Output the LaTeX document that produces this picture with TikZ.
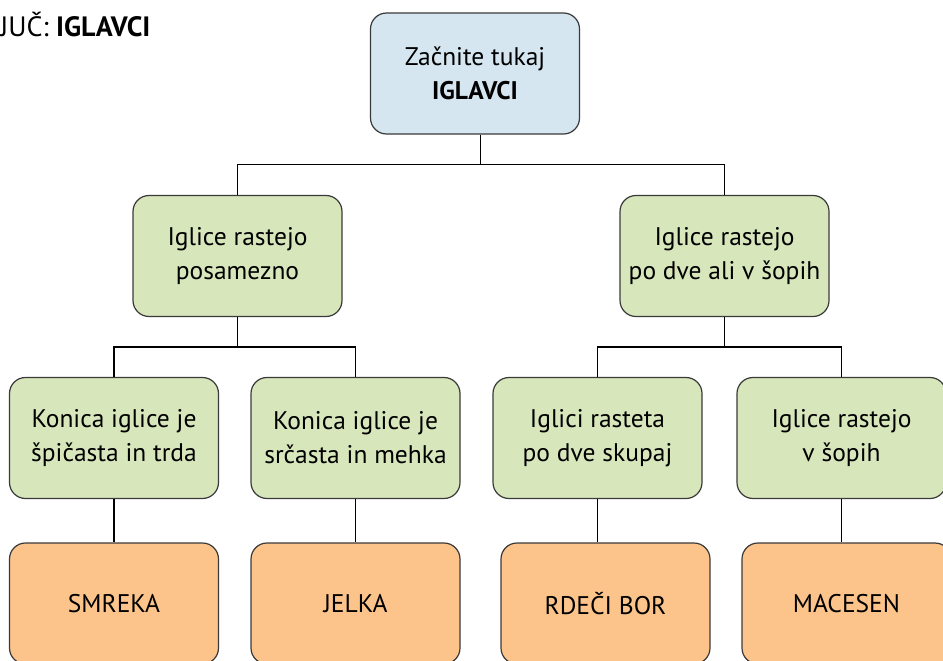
\documentclass[tikz,border=0pt]{standalone}
\usepackage{fontspec}
\setmainfont{PT Sans}
\usepackage{tikz}
\usetikzlibrary{positioning}
\definecolor{startblue}{HTML}{D5E6F1}
\definecolor{choicegreen}{HTML}{D8E6BB}
\definecolor{treeorange}{HTML}{FCC48B}
\definecolor{edgegray}{HTML}{3A3A3A}

\begin{document}
\begin{tikzpicture}[x=1pt, y=-1pt,
    every node/.style={font=\fontsize{25.5}{34}\selectfont},
    start/.style={draw=edgegray, rounded corners=16pt, align=center, minimum width=209pt,
                  minimum height=121pt, fill=startblue, line width=1.2pt},
    choice/.style={draw=edgegray, rounded corners=16pt, align=center, minimum width=209pt,
                   minimum height=121pt, fill=choicegreen, line width=1.2pt},
    species/.style={draw=edgegray, rounded corners=16pt, align=center, minimum width=209pt,
                    minimum height=121pt, fill=treeorange, line width=1.2pt},
    link/.style={draw=black, line width=1.2pt}]
    \useasboundingbox (0,0) rectangle (943,661);

    \node[anchor=west, inner sep=0pt, font=\fontsize{28}{34}\selectfont] (title) at (0,25)
      {JUČ: \textbf{IGLAVCI}};

    \node[start] (root) at (475,73.5) {Začnite tukaj\\\textbf{IGLAVCI}};

    \node[choice] (posam) at (237.5,256) {Iglice rastejo\\posamezno};
    \node[choice] (sopi)  at (724.5,256) {Iglice rastejo\\po dve ali v šopih};

    \node[choice] (trda)   at (114,438) {Konica iglice je\\špičasta in trda};
    \node[choice] (mehka)  at (355.5,438) {Konica iglice je\\srčasta in mehka};
    \node[choice] (skupaj) at (597.5,438) {Iglici rasteta\\po dve skupaj};
    \node[choice] (vsopih) at (841.5,438) {Iglice rastejo\\v šopih};

    \node[species] (smreka) at (114,603.5) {SMREKA};
    \node[species] (jelka)  at (355.5,603.5) {JELKA};
    \node[species] (bor)    at (605.5,603.5) {RDEČI BOR};
    \node[species] (macesen) at (846.5,603.5) {MACESEN};

    \coordinate (split) at (480.5,164.5);
    \coordinate (splitl) at (237.5,347);
    \coordinate (splitr) at (724.5,347);

    \draw[link] (root.south -| split) -- (split);
    \draw[link] (posam.north) |- (split) -| (sopi.north);
    \draw[link] (posam.south) -- (splitl);
    \draw[link] (trda.north) |- (splitl) -| (mehka.north);
    \draw[link] (sopi.south) -- (splitr);
    \draw[link] (skupaj.north) |- (splitr) -| (vsopih.north);
    \draw[link] (trda.south) -- (trda.south |- smreka.north);
    \draw[link] (mehka.south) -- (mehka.south |- jelka.north);
    \draw[link] (skupaj.south) -- (skupaj.south |- bor.north);
    \draw[link] (vsopih.south) -- (vsopih.south |- macesen.north);
\end{tikzpicture}
\end{document}
